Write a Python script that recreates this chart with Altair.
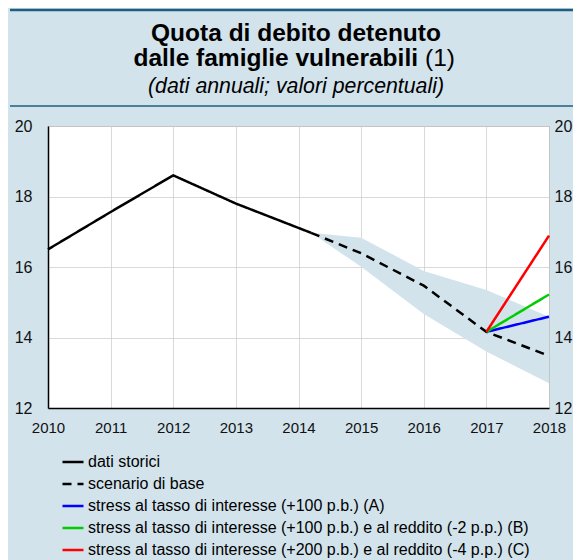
import altair as alt
import pandas as pd

FONT = "Liberation Sans"
BG = "#d2e3ec"
BAND = "#d2e3ec"
DARK = "#1c5f82"

# ---- data ----
S_HIST = "dati storici"
S_BASE = "scenario di base"
S_A = "stress al tasso di interesse (+100 p.b.) (A)"
S_B = "stress al tasso di interesse (+100 p.b.) e al reddito (-2 p.p.) (B)"
S_C = "stress al tasso di interesse (+200 p.b.) e al reddito (-4 p.p.) (C)"
series_order = [S_HIST, S_BASE, S_A, S_B, S_C]
series_colors = ["#000000", "#000000", "#0000ff", "#00cc00", "#ff0000"]
series_dash = [[1, 0], [9, 6], [1, 0], [1, 0], [1, 0]]

hist_years = [2010, 2011, 2012, 2013, 2014.2]
hist_vals = [16.5, 17.56, 18.6, 17.8, 16.97]

base_years = [2014.2, 2015, 2016, 2017, 2018]
base_vals = [16.97, 16.39, 15.47, 14.16, 13.48]
band_lo = [16.97, 16.01, 14.67, 13.60, 12.70]
band_hi = [16.97, 16.83, 15.89, 15.35, 14.59]

stress_years = [2017, 2018]
stress_a = [14.16, 14.59]
stress_b = [14.16, 15.22]
stress_c = [14.16, 16.89]

year_ticks = list(range(2010, 2019))
y_ticks = [12, 14, 16, 18, 20]

# ---- tables ----
rows = []
for s, xs, ys in [
    (S_HIST, hist_years, hist_vals),
    (S_BASE, base_years, base_vals),
    (S_A, stress_years, stress_a),
    (S_B, stress_years, stress_b),
    (S_C, stress_years, stress_c),
]:
    for xv, yv in zip(xs, ys):
        rows.append({"serie": s, "anno": xv, "valore": yv})
lines_df = pd.DataFrame(rows)
band_df = pd.DataFrame({"anno": base_years, "lo": band_lo, "hi": band_hi})
one = pd.DataFrame({"k": [0]})

x_enc = alt.X(
    "anno:Q",
    scale=alt.Scale(domain=[2010, 2018], nice=False, zero=False),
    axis=alt.Axis(
        values=year_ticks, format="d", title=None, grid=True,
        gridColor="#cfcfcf", gridWidth=0.8, domainColor="#000000",
        domainWidth=1.5, ticks=False, tickSize=0, labelPadding=12,
        labelFontSize=15, labelFont=FONT, labelColor="#111111",
        labelFlush=False, labelOverlap=False,
    ),
)
y_scale = alt.Scale(domain=[12, 20], nice=False, zero=False)

band = alt.Chart(band_df).mark_area(color=BAND, opacity=1).encode(
    x=x_enc,
    y=alt.Y(
        "lo:Q", scale=y_scale,
        axis=alt.Axis(
            values=y_ticks, title=None, grid=True, gridColor="#cfcfcf",
            gridWidth=0.8, domainColor="#000000", domainWidth=1.5,
            ticks=False, tickSize=0, labelPadding=16, labelFontSize=16,
            labelFont=FONT, labelColor="#111111", labelFlush=False,
        ),
    ),
    y2="hi:Q",
)

lines = alt.Chart(lines_df).mark_line(strokeWidth=2.5, strokeCap="butt").encode(
    x=x_enc,
    y=alt.Y(
        "valore:Q", scale=y_scale,
        axis=alt.Axis(
            orient="right", values=y_ticks, title=None, grid=False,
            domain=False, ticks=False, tickSize=0, labelPadding=5,
            labelFontSize=16, labelFont=FONT, labelColor="#111111",
            labelFlush=False,
        ),
    ),
    color=alt.Color(
        "serie:N",
        scale=alt.Scale(domain=series_order, range=series_colors),
        legend=alt.Legend(title=None),
    ),
    strokeDash=alt.StrokeDash(
        "serie:N",
        scale=alt.Scale(domain=series_order, range=series_dash),
        legend=alt.Legend(title=None),
    ),
)

rule_top = alt.Chart(one).mark_rule(color=DARK, strokeWidth=2.5).encode(
    x=alt.value(-38), x2=alt.value(540), y=alt.value(-116)
)
rule_mid = alt.Chart(one).mark_rule(color=DARK, strokeWidth=1.5).encode(
    x=alt.value(-38), x2=alt.value(540), y=alt.value(-20)
)
t1 = alt.Chart(one).mark_text(
    font=FONT, fontSize=24.5, fontWeight="bold", align="center",
    baseline="alphabetic", color="#000000",
).encode(x=alt.value(248), y=alt.value(-85), text=alt.value("Quota di debito detenuto"))
t2 = alt.Chart(one).mark_text(
    font=FONT, fontSize=24.5, fontWeight="bold", align="right",
    baseline="alphabetic", color="#000000",
).encode(x=alt.value(370), y=alt.value(-60), text=alt.value("dalle famiglie vulnerabili"))
t2b = alt.Chart(one).mark_text(
    font=FONT, fontSize=24.5, align="left", baseline="alphabetic", color="#000000",
).encode(x=alt.value(377), y=alt.value(-60), text=alt.value("(1)"))
t3 = alt.Chart(one).mark_text(
    font=FONT, fontSize=21.3, fontStyle="italic", align="center",
    baseline="alphabetic", color="#000000",
).encode(x=alt.value(248), y=alt.value(-33), text=alt.value("(dati annuali; valori percentuali)"))

chart = (
    alt.layer(band, lines, rule_top, rule_mid, t1, t2, t2b, t3)
    .resolve_scale(y="independent")
    .properties(
        width=501, height=282,
        autosize=alt.AutoSizeParams(type="none"),
        padding={"left": 40, "top": 118, "right": 24, "bottom": 152},
        background=BG,
    )
    .configure_view(fill="white", stroke="#999999", strokeWidth=1)
    .configure_legend(
        orient="none", legendX=13, legendY=324, symbolType="stroke",
        symbolStrokeWidth=2.5, symbolSize=441, labelFontSize=16,
        labelFont=FONT, labelColor="#000000", rowPadding=2, labelOffset=3,
        padding=0, labelLimit=600,
    )
)

chart.save("out.html", embed_options={"renderer": "svg", "actions": False})
